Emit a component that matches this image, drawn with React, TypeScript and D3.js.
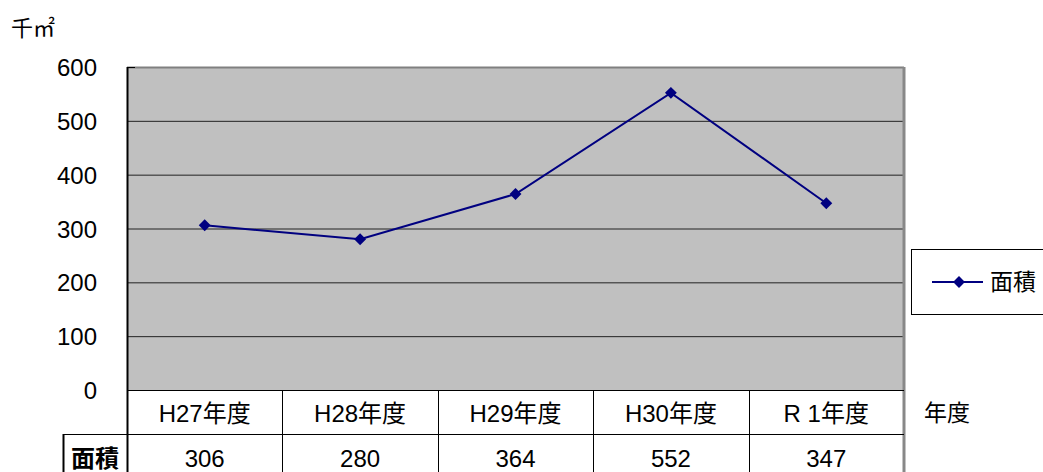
import React, { useRef, useEffect } from 'react'
import * as d3 from 'd3'

const categories = ['H27年度', 'H28年度', 'H29年度', 'H30年度', 'R 1年度']
const values = [306, 280, 364, 552, 347]
const seriesName = '面積'
const yTicks = [0, 100, 200, 300, 400, 500, 600]

const App = () => {
    const ref = useRef<SVGSVGElement>(null)
    useEffect(() => {
        const w = 1043
        const h = 472
        const left = 127
        const right = 904
        const top = 67
        const bottom = 390
        const rowH = 45
        const fs = '24px'
        const sans = '"Liberation Sans", Arial, "Noto Sans CJK JP", sans-serif'
        const serif = '"DejaVu Serif", "Noto Sans CJK JP", serif'

        const svg = d3.select(ref.current)
        svg.selectAll('*').remove()
        svg.attr('width', w).attr('height', h).style('display', 'block')

        const x = d3.scaleBand().domain(categories).range([left, right]).padding(0)
        const y = d3.scaleLinear().domain([0, 600]).range([bottom, top])

        // plot background
        svg.append('rect')
            .attr('x', left).attr('y', top)
            .attr('width', right - left).attr('height', bottom - top)
            .attr('fill', '#c0c0c0')

        // grid lines
        svg.append('g').selectAll('line')
            .data(yTicks.filter(d => d > 0 && d < 600))
            .join('line')
            .attr('x1', left).attr('x2', right)
            .attr('y1', d => y(d) + 0.5).attr('y2', d => y(d) + 0.5)
            .attr('stroke', '#222').attr('stroke-width', 1)

        // frame
        svg.append('line').attr('x1', left).attr('x2', right).attr('y1', top + 0.5).attr('y2', top + 0.5)
            .attr('stroke', '#808080').attr('stroke-width', 2)
        svg.append('line').attr('x1', right).attr('x2', right).attr('y1', top).attr('y2', h)
            .attr('stroke', '#888').attr('stroke-width', 3)
        svg.append('line').attr('x1', left + 0.5).attr('x2', left + 0.5).attr('y1', top).attr('y2', h)
            .attr('stroke', '#000').attr('stroke-width', 2)
        svg.append('line').attr('x1', left).attr('x2', left + 8).attr('y1', top + 0.5).attr('y2', top + 0.5)
            .attr('stroke', '#000').attr('stroke-width', 1)

        // y axis labels
        svg.append('g').selectAll('text')
            .data(yTicks)
            .join('text')
            .attr('x', 97).attr('y', d => y(d) + 9)
            .attr('text-anchor', 'end')
            .style('font-family', sans).style('font-size', fs)
            .text(d => d)

        // unit label
        svg.append('text').attr('x', 11).attr('y', 36)
            .style('font-family', serif).style('font-size', '22px')
            .text('千㎡')

        // data table
        const table = svg.append('g')
        table.append('line').attr('x1', left).attr('x2', right).attr('y1', bottom + 0.5).attr('y2', bottom + 0.5)
            .attr('stroke', '#000')
        table.append('line').attr('x1', 63).attr('x2', right).attr('y1', bottom + rowH - 0.5).attr('y2', bottom + rowH - 0.5)
            .attr('stroke', '#000')
        table.append('line').attr('x1', 63.5).attr('x2', 63.5).attr('y1', bottom + rowH - 1).attr('y2', h)
            .attr('stroke', '#000').attr('stroke-width', 2)
        table.selectAll('.col')
            .data(categories.slice(1))
            .join('line')
            .attr('class', 'col')
            .attr('x1', d => Math.round(x(d)!) + 0.5).attr('x2', d => Math.round(x(d)!) + 0.5)
            .attr('y1', bottom).attr('y2', h)
            .attr('stroke', '#000')
        table.selectAll('.cat')
            .data(categories)
            .join('text')
            .attr('class', 'cat')
            .attr('x', d => x(d)! + x.bandwidth() / 2)
            .attr('y', bottom + 32)
            .attr('text-anchor', 'middle')
            .style('font-family', sans).style('font-size', fs)
            .text(d => d)
        table.selectAll('.val')
            .data(values)
            .join('text')
            .attr('class', 'val')
            .attr('x', (d, i) => x(categories[i])! + x.bandwidth() / 2)
            .attr('y', bottom + rowH + 32)
            .attr('text-anchor', 'middle')
            .style('font-family', sans).style('font-size', fs)
            .text(d => d)
        table.append('text').attr('x', 95).attr('y', bottom + rowH + 32)
            .attr('text-anchor', 'middle')
            .style('font-family', sans).style('font-size', fs).style('font-weight', 'bold')
            .text(seriesName)

        // x axis title
        svg.append('text').attr('x', 924).attr('y', 421)
            .style('font-family', serif).style('font-size', '23px')
            .text('年度')

        // line
        const line = d3.line<number>()
            .x((d, i) => x(categories[i])! + x.bandwidth() / 2)
            .y(d => y(d))
        svg.append('path')
            .datum(values)
            .attr('d', line)
            .attr('fill', 'none')
            .attr('stroke', '#000080')
            .attr('stroke-width', 2)
        const diamond = d3.symbol().type(d3.symbolDiamond2).size(90)
        svg.append('g').selectAll('path')
            .data(values)
            .join('path')
            .attr('transform', (d, i) => `translate(${x(categories[i])! + x.bandwidth() / 2},${y(d)})`)
            .attr('d', diamond)
            .attr('fill', '#000080')

        // legend
        const lg = svg.append('g')
        lg.append('rect').attr('x', 911.5).attr('y', 249.5).attr('width', 140).attr('height', 65)
            .attr('fill', '#fff').attr('stroke', '#000')
        lg.append('line').attr('x1', 932).attr('x2', 983).attr('y1', 282).attr('y2', 282)
            .attr('stroke', '#000080').attr('stroke-width', 2)
        lg.append('path').attr('transform', 'translate(959,282)').attr('d', diamond).attr('fill', '#000080')
        lg.append('text').attr('x', 990).attr('y', 290)
            .style('font-family', serif).style('font-size', '23px')
            .text(seriesName)
    }, [])
    return (
        <div style={{ position: 'absolute', left: 0, top: 0 }}>
            <svg ref={ref}></svg>
        </div>
    )
}

export default App
